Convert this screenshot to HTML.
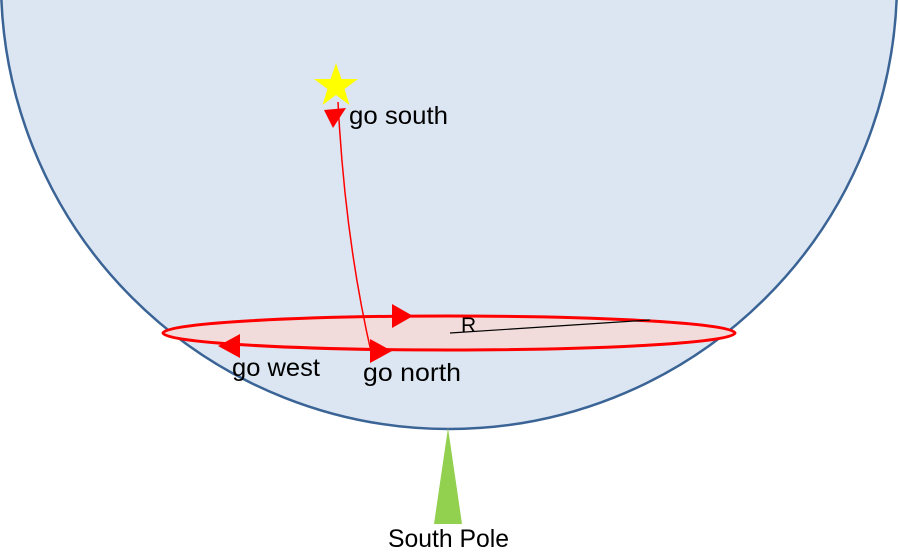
<!DOCTYPE html>
<html><head><style>
html,body{margin:0;padding:0;background:#fff;}
svg{display:block;}
text{font-family:"Liberation Sans",sans-serif;fill:#000;}
</style></head><body>
<svg width="900" height="560" viewBox="0 0 900 560" xmlns="http://www.w3.org/2000/svg">
<circle cx="449" cy="-19" r="448" fill="#dce6f2" stroke="#3b6496" stroke-width="2.5"/>
<ellipse cx="449" cy="333" rx="286" ry="17" fill="#f2dcdb" stroke="#ff0000" stroke-width="3"/>
<path d="M338,102 Q345,240 372,356" fill="none" stroke="#ff0000" stroke-width="1.5"/>
<line x1="450" y1="333" x2="650" y2="320" stroke="#000" stroke-width="1.2"/>
<polygon points="336,63 341.5,79 358,79 344.5,89 349.5,105 336,95 322.5,105 327.5,89 314,79 330.5,79" fill="#ffff00"/>
<polygon points="324,110 346,108 333,128" fill="#ff0000"/>
<polygon points="392,304 413,316 392,328" fill="#ff0000"/>
<polygon points="240,334 218,346 240,358" fill="#ff0000"/>
<polygon points="370,339 392,351 370,363" fill="#ff0000"/>
<polygon points="448,428 434,524 462,524" fill="#92d050"/>
<text x="349" y="124" font-size="25" textLength="99" lengthAdjust="spacingAndGlyphs">go south</text>
<text x="461" y="332" font-size="21">R</text>
<text x="232" y="376" font-size="25" textLength="88" lengthAdjust="spacingAndGlyphs">go west</text>
<text x="363" y="381" font-size="25" textLength="98" lengthAdjust="spacingAndGlyphs">go north</text>
<text x="388" y="547" font-size="25" textLength="121" lengthAdjust="spacingAndGlyphs">South Pole</text>
</svg>
</body></html>
